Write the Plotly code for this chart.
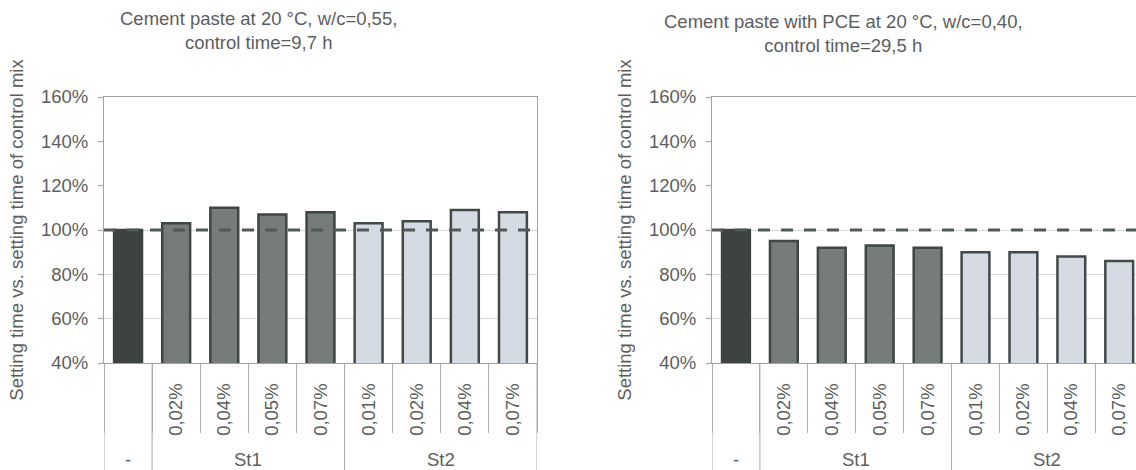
import plotly.graph_objects as go

# Categories: admixture type (outer level) and dosage (inner level)
GROUPS = ["-", "St1", "St1", "St1", "St1", "St2", "St2", "St2", "St2"]
DOSAGES = ["", "0,02%", "0,04%", "0,05%", "0,07%", "0,01%", "0,02%", "0,04%", "0,07%"]

# Setting time relative to the control mix
PASTE_W055 = [1.00, 1.03, 1.10, 1.07, 1.08, 1.03, 1.04, 1.09, 1.08]
PASTE_PCE_W040 = [1.00, 0.95, 0.92, 0.93, 0.92, 0.90, 0.90, 0.88, 0.86]
CONTROL_LEVEL = 1.0

Y_TICKS = [0.4, 0.6, 0.8, 1.0, 1.2, 1.4, 1.6]
GRID_LEVELS = [0.6, 0.8, 1.0]

TITLES = [
    "Cement paste at 20 °C, w/c=0,55,<br>control time=9,7 h",
    "Cement paste with PCE at 20 °C, w/c=0,40,<br>control time=29,5 h",
]
Y_TITLE = "Setting time vs. setting time of control mix"

W, H = 1136, 470
M_TOP, M_BOT = 97, 107
PLOT_H = H - M_TOP - M_BOT

FONT = "Liberation Sans, Arial, sans-serif"
FS = 18.5
TXT = "#5c5e5e"
AXIS_C = "#9ea2a2"

FILL = {"-": "#3d4242", "St1": "#767b7b", "St2": "#d5dbe2"}
EDGE = {"-": "#3d4242", "St1": "#3e4646", "St2": "#414949"}

x_idx = list(range(len(DOSAGES)))
fills = [FILL[g] for g in GROUPS]
edges = [EDGE[g] for g in GROUPS]

fig = go.Figure()
panels = [
    dict(values=PASTE_W055, xa="x", ya="y", dom=[104 / W, 537 / W], xmax=len(DOSAGES) - 0.5,
         title=TITLES[0], tx=258, ty=30, box=True),
    dict(values=PASTE_PCE_W040, xa="x2", ya="y2", dom=[712 / W, 1.0], xmax=len(DOSAGES) - 0.65,
         title=TITLES[1], tx=843, ty=33, box=False),
]

for p in panels:
    fig.add_trace(go.Bar(
        x=x_idx, y=p["values"], xaxis=p["xa"], yaxis=p["ya"],
        width=0.58,
        marker=dict(color=fills, line=dict(color=edges, width=2.5)),
        showlegend=False, hoverinfo="skip",
    ))

layout_axes = {}
for i, p in enumerate(panels):
    sfx = "" if i == 0 else str(i + 1)
    layout_axes["xaxis" + sfx] = dict(
        domain=p["dom"], anchor="y" + sfx, range=[-0.5, p["xmax"]],
        tickmode="array", tickvals=x_idx, ticktext=DOSAGES, tickangle=-90,
        ticks="", showgrid=False, zeroline=False,
        showline=True, linecolor=AXIS_C, linewidth=1, mirror=True,
        tickfont=dict(family=FONT, size=FS, color=TXT),
        minor=dict(tickmode="linear", tick0=0.5, dtick=1, ticks="outside",
                   ticklen=69, tickcolor="#aeb2b2", tickwidth=1, showgrid=False),
        ticklabelstandoff=12,
        automargin=False, fixedrange=True,
    )
    layout_axes["yaxis" + sfx] = dict(
        domain=[0, 1], anchor="x" + sfx, range=[0.4, 1.6],
        tickmode="array", tickvals=Y_TICKS, tickformat=".0%",
        ticks="outside", ticklen=5, tickcolor=AXIS_C,
        showline=True, linecolor=AXIS_C, linewidth=1, mirror=p["box"],
        showgrid=False, zeroline=False,
        minor=dict(tickmode="array", tickvals=GRID_LEVELS, ticks="",
                   showgrid=True, gridcolor="#d3d7d7", gridwidth=1),
        tickfont=dict(family=FONT, size=FS, color=TXT),
        ticklabelstandoff=6,
        title=dict(text=Y_TITLE, font=dict(family=FONT, size=FS, color=TXT), standoff=12),
        automargin=False, fixedrange=True,
    )

shapes = []
annotations = []
for i, p in enumerate(panels):
    # dashed reference line at the control level
    shapes.append(dict(type="line", xref=p["xa"] + " domain", x0=0, x1=1,
                       yref=p["ya"], y0=CONTROL_LEVEL, y1=CONTROL_LEVEL,
                       line=dict(color="#4f5a56", width=3, dash="12px,11px"), layer="above"))
    # group dividers through the category table
    bounds = [-0.5] + [k + 0.5 for k in range(len(GROUPS) - 1) if GROUPS[k] != GROUPS[k + 1]] + [len(GROUPS) - 0.5]
    for b in bounds:
        shapes.append(dict(type="line", xref=p["xa"], x0=b, x1=b, yref="paper", y0=0, y1=-0.5,
                           line=dict(color="#a6aaaa", width=1), layer="above"))
    # group labels
    seen = []
    for g in GROUPS:
        if g not in seen:
            seen.append(g)
    for g in seen:
        pos = [k for k, gg in enumerate(GROUPS) if gg == g]
        annotations.append(dict(text=g, xref=p["xa"], x=sum(pos) / len(pos), yref="paper",
                                y=(363 - 459) / PLOT_H, yanchor="middle", showarrow=False,
                                font=dict(family=FONT, size=FS, color=TXT)))
    # panel title
    annotations.append(dict(text=p["title"], xref="paper", x=p["tx"] / W, xanchor="center",
                            yref="paper", y=(363 - p["ty"]) / PLOT_H, yanchor="middle",
                            showarrow=False, align="center",
                            font=dict(family=FONT, size=FS, color=TXT)))

fig.update_layout(
    width=W, height=H,
    margin=dict(l=0, r=0, t=M_TOP, b=M_BOT, pad=0),
    paper_bgcolor="white", plot_bgcolor="white",
    template="none",
    bargap=0.4,
    shapes=shapes, annotations=annotations,
    **layout_axes,
)

fig.write_html("out.html", config={"displayModeBar": False})
